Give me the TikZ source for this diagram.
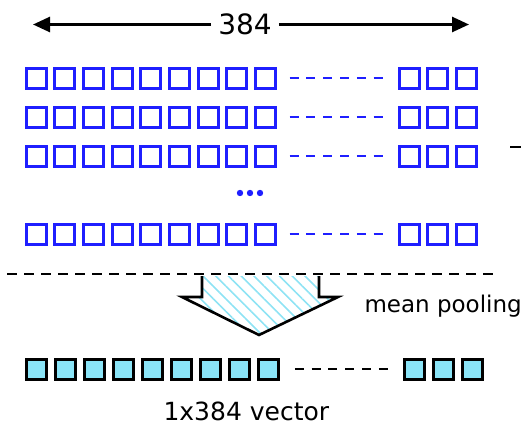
\documentclass[tikz,border=0pt]{standalone}
\usepackage{fontspec}
\setmainfont{DejaVu Sans}
\usetikzlibrary{positioning,arrows.meta,patterns.meta}
\definecolor{tokblue}{HTML}{1F1FFF}
\definecolor{poolcyan}{HTML}{8AE4F7}
\definecolor{hatchcyan}{HTML}{8EE3F4}
\tikzset{
  tok/.style={draw=tokblue,line width=3pt,minimum size=20pt,inner sep=0pt},
  vec/.style={draw=black,fill=poolcyan,line width=3pt,minimum size=20pt,inner sep=0pt},
  gapline/.style={line width=2.2pt,dash pattern=on 9pt off 7.8pt},
  lbl/.style={font=\fontsize{23}{27}\selectfont}
}

\begin{document}
\begin{tikzpicture}[x=1pt,y=-1pt]
\useasboundingbox (0,0) rectangle (530,442);
% width of a token embedding
\node[font=\fontsize{28}{32}\selectfont,inner xsep=7pt] (dim) at (245,24.5) {384};
\coordinate (dimL) at (33,24.5); \coordinate (dimR) at (469,24.5);
\draw[line width=2.6pt,-{Triangle[length=17pt,width=15pt]}] (dim) -- (dimL);
\draw[line width=2.6pt,-{Triangle[length=17pt,width=15pt]}] (dim) -- (dimR);
% token embeddings
\foreach \r/\y in {1/78,2/117,3/156,4/234} {
  \foreach \i in {1,...,9} \node[tok] (t\r-\i) at ({36+28.7*(\i-1)},\y) {};
  \foreach \i in {1,2,3} \node[tok] (u\r-\i) at ({409+28.5*(\i-1)},\y) {};
  \draw[tokblue,gapline,shorten <=12.5pt,shorten >=14pt] (t\r-9) -- (u\r-1);
}
\foreach \x in {240,250,260} \fill[tokblue] (\x,193) circle (3.2pt);
\draw[line width=2.6pt] (510,147) -- (521,147);
% separator
\coordinate (sepL) at (7,274); \coordinate (sepR) at (497,274);
\draw[line width=2.4pt,dash pattern=on 10pt off 7pt] (sepL) -- (sepR);
% pooling arrow
\draw[line width=2.6pt,line join=miter,pattern={Lines[angle=-45,distance=9pt,line width=1.6pt]},pattern color=hatchcyan]
  (202,276) -- (202,297) -- (182,297) -- (259,335) -- (338,297) -- (319,297) -- (319,276);
\node[lbl,anchor=base west] (pool) at (361,312) {mean pooling};
% pooled vector
\foreach \i in {1,...,9} \node[vec] (v\i) at ({36+29.1*(\i-1)},369) {};
\foreach \i in {1,2,3} \node[vec] (w\i) at ({414+29*(\i-1)},369) {};
\draw[gapline,shorten <=14.5pt,shorten >=12pt] (v9) -- (w1);
\node[anchor=base west,font=\fontsize{25}{29}\selectfont] (vecname) at (160,420) {1x384 vector};
\end{tikzpicture}
\end{document}
